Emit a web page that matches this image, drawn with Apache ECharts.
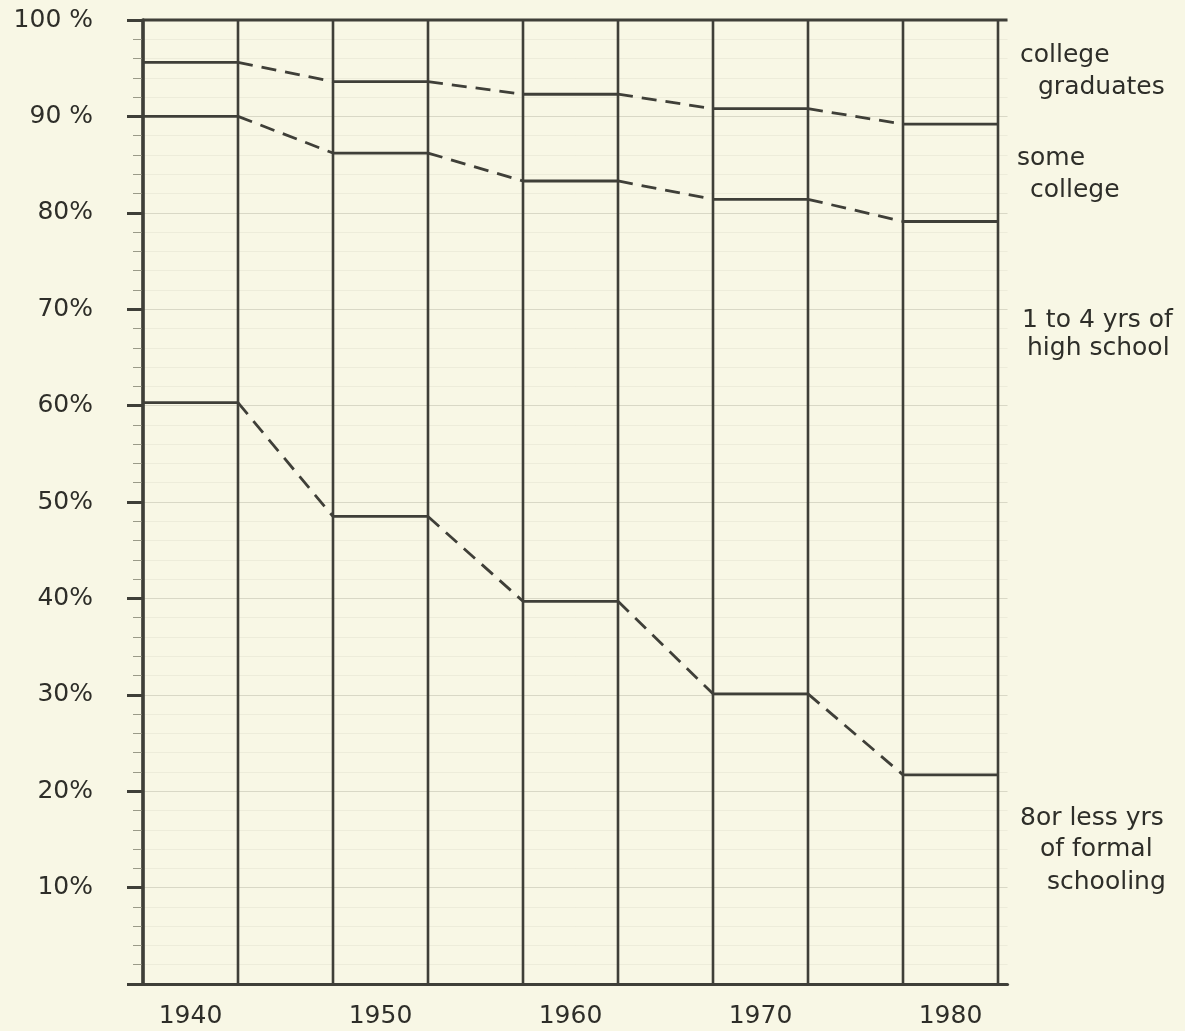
<!DOCTYPE html>
<html>
<head>
<meta charset="utf-8">
<script src="https://cdn.jsdelivr.net/npm/echarts@6/dist/echarts.min.js"></script>
<style>
html,body{margin:0;padding:0;background:#f8f7e5;}
#c{width:1185px;height:1031px;}
</style>
</head>
<body>
<div id="c"></div>
<script>
// ---- data (percent of adults by years of schooling) ----
const years = ['1940', '1950', '1960', '1970', '1980'];
const eightOrLess = [60.3, 48.5, 39.7, 30.1, 21.7];
const highSchool = [29.7, 37.7, 43.6, 51.3, 57.4];
const someCollege = [5.6, 7.4, 9.0, 9.4, 10.1];
const collegeGrads = [4.4, 6.4, 7.7, 9.2, 10.8];
const yTickLabels = ['', '10%', '20%', '30%', '40%', '50%', '60%', '70%', '80%', '90 %', '100 %'];
const sideLabels = [
  ['college', 'graduates'],
  ['some', 'college'],
  ['1 to 4 yrs of', 'high school'],
  ['8or less yrs', 'of formal', 'schooling']
];

// ---- cumulative boundaries ----
const n = years.length;
const b1 = eightOrLess.slice();
const b2 = years.map((_, i) => b1[i] + highSchool[i]);
const b3 = years.map((_, i) => b2[i] + someCollege[i]);
const b4 = years.map((_, i) => b3[i] + collegeGrads[i]);
const rows = years.map((_, i) => {
  const j = Math.min(i + 1, n - 1);
  return [2 * i, b1[i], b2[i], b3[i], b4[i], b1[j], b2[j], b3[j], b4[j]];
});

const LINE = '#3f3f38';
const TEXT = '#2e2e29';

function renderItem(params, api) {
  const i = params.dataIndex;
  const x0 = api.value(0), x1 = x0 + 1, x2 = x0 + 2;
  const children = [];
  const seg = (a, b, dashed, w) => children.push({
    type: 'line',
    shape: { x1: a[0], y1: a[1], x2: b[0], y2: b[1] },
    style: { stroke: LINE, lineWidth: w || 2.8, lineDash: dashed ? [15, 9] : null, lineCap: 'butt' }
  });
  const topV = api.value(4);
  // column edges
  [x0, x1].forEach(x => seg(api.coord([x, 0]), api.coord([x, topV]), false, 2.6));
  // internal boundaries
  for (let k = 1; k <= 3; k++) {
    const v = api.value(k);
    const a = api.coord([x0, v]);
    const b = api.coord([x1, v]);
    seg(a, b, false, 2.8);
    if (i < n - 1) {
      const c = api.coord([x2, api.value(k + 4)]);
      seg(b, c, true, 2.8);
    }
  }
  // top (100%) boundary
  const endX = i < n - 1 ? x2 : x1 + 0.1;
  seg(api.coord([x0, topV]), api.coord([endX, api.value(8)]), false, 3);
  return { type: 'group', children: children };
}

// side label graphics
const sidePos = [
  [[1020, 55], [1038, 87]],
  [[1017, 158], [1030, 190]],
  [[1022, 320], [1027, 348]],
  [[1020, 818], [1040, 849], [1047, 882]]
];
const graphics = [];
sideLabels.forEach((lines, gi) => {
  lines.forEach((t, li) => {
    graphics.push({
      type: 'text',
      x: sidePos[gi][li][0],
      y: sidePos[gi][li][1],
      style: {
        text: t,
        fill: TEXT,
        font: '25px "DejaVu Sans"',
        align: 'left',
        verticalAlign: 'middle'
      }
    });
  });
});

const chart = echarts.init(document.getElementById('c'), null, { renderer: 'canvas' });
chart.setOption({
  backgroundColor: '#f8f7e5',
  animation: false,
  grid: { left: 143, right: 177.5, top: 20, bottom: 47 },
  xAxis: {
    type: 'value',
    min: 0,
    max: 9.1,
    axisLine: { show: true, onZero: true, lineStyle: { color: LINE, width: 3.2 } },
    axisTick: { show: false },
    splitLine: { show: false },
    axisLabel: {
      customValues: years.map((_, i) => 2 * i + 0.5),
      formatter: v => years[Math.round((v - 0.5) / 2)],
      color: TEXT,
      fontSize: 25,
      fontFamily: 'DejaVu Sans',
      margin: 20
    }
  },
  yAxis: {
    type: 'value',
    min: 0,
    max: 100,
    interval: 10,
    axisLine: { show: true, lineStyle: { color: LINE, width: 3.5 } },
    axisTick: { show: true, inside: false, length: 16, lineStyle: { color: LINE, width: 3 } },
    minorTick: { show: true, splitNumber: 5, length: 10, lineStyle: { color: '#9a9a88', width: 1 } },
    splitLine: { show: true, lineStyle: { color: 'rgba(110,110,90,0.22)', width: 1 } },
    minorSplitLine: { show: true, lineStyle: { color: 'rgba(110,110,90,0.08)', width: 1 } },
    axisLabel: {
      formatter: v => yTickLabels[Math.round(v / 10)],
      color: TEXT,
      fontSize: 25,
      fontFamily: 'DejaVu Sans',
      margin: 50
    }
  },
  series: [{
    type: 'custom',
    renderItem: renderItem,
    data: rows,
    encode: { x: 0, y: 1 },
    clip: false,
    silent: true,
    z: 5
  }],
  graphic: graphics
});
</script>
</body>
</html>
